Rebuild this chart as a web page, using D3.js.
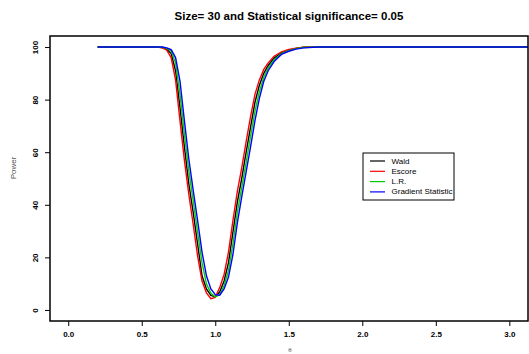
<!DOCTYPE html>
<html>
<head>
<meta charset="utf-8">
<script src="https://cdn.jsdelivr.net/npm/d3@7"></script>
<style>
  body { margin: 0; background: #fff; }
  text { font-family: 'Liberation Sans', Arial, sans-serif; }
</style>
</head>
<body>
<div id="chart"></div>
<script>
var theta = [0.2, 0.4, 0.6, 0.64, 0.67, 0.70, 0.73, 0.76, 0.79, 0.82, 0.85, 0.88, 0.91, 0.94, 0.97,
  1.00, 1.03, 1.06, 1.09, 1.12, 1.15, 1.18, 1.21, 1.24, 1.27, 1.30, 1.33, 1.36, 1.40, 1.45,
  1.50, 1.55, 1.60, 1.70, 2.0, 2.5, 3.0, 3.2]

var wald = [100, 100, 100, 99.8, 99.2, 97.5, 91, 77, 62, 48, 37, 25, 13, 8, 5.5,
  5, 6.8, 11, 18, 29.5, 41, 50, 60, 69.5, 79, 85.5, 90, 93, 95.8, 97.8,
  98.8, 99.5, 99.9, 100, 100, 100, 100, 100]
var escore = [100, 100, 100, 99.7, 98.8, 96, 87.5, 72, 57, 44, 32.5, 20.5, 11, 6.5, 4.3,
  4.8, 8.5, 13.5, 22, 34, 45, 54, 64, 73.5, 82, 87.5, 91.5, 94, 96.5, 98.2,
  99.1, 99.6, 99.9, 100, 100, 100, 100, 100]
var lr = [100, 100, 100, 99.9, 99.5, 98.5, 94, 82, 67, 53, 41.5, 29.5, 18, 10, 6.3,
  5, 5.8, 9.2, 15, 25, 37, 46.5, 56, 66, 75.5, 83, 88.5, 92, 95.2, 97.5,
  98.6, 99.4, 99.8, 100, 100, 100, 100, 100]
var gradient = [100, 100, 100, 100, 99.7, 99, 96, 87, 72, 57.5, 45.5, 34, 22, 13, 8,
  5.8, 5.6, 8, 12.5, 21, 33, 43, 52.5, 62, 72, 80.5, 87, 91, 94.5, 97.2,
  98.4, 99.2, 99.7, 100, 100, 100, 100, 100]

var seriesNames = ['Wald', 'Escore', 'L.R.', 'Gradient Statistic']
var seriesColors = ['#000000', '#ff0000', '#00cc00', '#0000ff']
var seriesValues = [wald, escore, lr, gradient]

var xTicks = [0, 0.5, 1, 1.5, 2, 2.5, 3]
var yTicks = [0, 20, 40, 60, 80, 100]

var width = 529
var height = 354
var margin = {top: 36, right: 1, bottom: 33, left: 50}

var svg = d3.select('#chart')
  .append('svg')
  .attr('width', width)
  .attr('height', height)

var w = width - margin.left - margin.right
var h = height - margin.top - margin.bottom

var x = d3.scaleLinear()
  .domain([-0.124, 3.127])
  .range([margin.left, margin.left + w])
var y = d3.scaleLinear()
  .domain([-4.2, 104.2])
  .range([margin.top + h, margin.top])

svg.append('clipPath')
  .attr('id', 'plotclip')
  .append('rect')
  .attr('x', margin.left)
  .attr('y', margin.top)
  .attr('width', w)
  .attr('height', h)

var line = d3.line()
  .x(function (d) { return x(d[0]) })
  .y(function (d) { return y(d[1]) })

var g = svg.append('g').attr('clip-path', 'url(#plotclip)')
seriesValues.forEach(function (vals, i) {
  var pts = theta.map(function (t, j) { return [t, vals[j]] })
  g.append('path')
    .datum(pts)
    .attr('fill', 'none')
    .attr('stroke', seriesColors[i])
    .attr('stroke-width', 1.4)
    .attr('d', line)
})

// box
svg.append('rect')
  .attr('x', margin.left)
  .attr('y', margin.top)
  .attr('width', w)
  .attr('height', h)
  .attr('fill', 'none')
  .attr('stroke', '#000')
  .attr('stroke-width', 1.5)

var xAxis = svg.append('g')
  .attr('transform', 'translate(0,' + (margin.top + h) + ')')
  .call(d3.axisBottom(x).tickValues(xTicks).tickSize(5).tickFormat(d3.format('.1f')))
xAxis.select('.domain').remove()
xAxis.selectAll('line').attr('stroke-width', 1)
xAxis.selectAll('text')
  .attr('y', 10)
  .attr('font-size', 8)
  .attr('font-weight', 'bold')
  .attr('font-family', "'Liberation Sans', Arial, sans-serif")

var yAxis = svg.append('g')
  .attr('transform', 'translate(' + margin.left + ',0)')
  .call(d3.axisLeft(y).tickValues(yTicks).tickSize(5))
yAxis.select('.domain').remove()
yAxis.selectAll('text')
  .attr('x', null)
  .attr('dy', null)
  .attr('transform', 'translate(-15,0) rotate(-90)')
  .attr('text-anchor', 'middle')
  .attr('dominant-baseline', 'central')
  .attr('font-size', 8)
  .attr('font-weight', 'bold')
  .attr('font-family', "'Liberation Sans', Arial, sans-serif")

svg.append('text')
  .attr('x', margin.left + w / 2)
  .attr('y', 20)
  .attr('text-anchor', 'middle')
  .attr('font-size', 11.5)
  .attr('font-weight', 'bold')
  .text('Size= 30 and Statistical significance= 0.05')

svg.append('text')
  .attr('transform', 'translate(16,168) rotate(-90)')
  .attr('text-anchor', 'middle')
  .attr('font-size', 8)
  .attr('fill', '#555')
  .text('Power')

svg.append('text')
  .attr('x', 290)
  .attr('y', 352)
  .attr('text-anchor', 'middle')
  .attr('font-size', 6)
  .attr('fill', '#555')
  .text('θ')

// legend
var legend = svg.append('g').attr('transform', 'translate(363,153)')
legend.append('rect')
  .attr('width', 91)
  .attr('height', 47)
  .attr('fill', '#fff')
  .attr('stroke', '#000')
  .attr('stroke-width', 1)
seriesNames.forEach(function (name, i) {
  var ly = 8 + i * 10.3
  legend.append('line')
    .attr('x1', 7).attr('x2', 22)
    .attr('y1', ly).attr('y2', ly)
    .attr('stroke', seriesColors[i])
    .attr('stroke-width', 1.2)
  legend.append('text')
    .attr('x', 28.5)
    .attr('y', ly)
    .attr('dominant-baseline', 'central')
    .attr('font-size', 8)
    .text(name)
})
</script>
</body>
</html>
